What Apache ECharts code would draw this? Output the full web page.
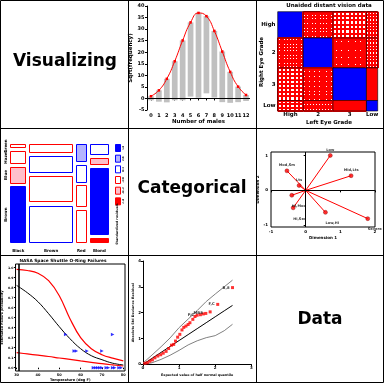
<!DOCTYPE html>
<html><head><meta charset="utf-8">
<script src="https://cdn.jsdelivr.net/npm/echarts@6/dist/echarts.min.js"></script>
<style>html,body{margin:0;padding:0;background:#fff}#c{width:384px;height:383px}</style>
</head><body><div id="c"></div>
<script>
// ---------- Panel: hanging rootogram (number of males) ----------
const maleCounts = ['0','1','2','3','4','5','6','7','8','9','10','11','12'];
const sqrtExpected = [0.96,3.5,8.5,16.1,25.1,32.9,37.0,35.6,29.2,20.3,11.5,5.1,1.5];
const barBottoms = [-0.8,-1.4,-1.7,-0.8,-0.8,0.8,0.3,2.2,0.4,-1.6,-1.9,-1.6,-1.1];

// ---------- Panel: sieve diagram (unaided distant vision) ----------
const eyeGrades = ['High','2','3','Low'];
const visionCounts = [
  [1520, 266, 124, 66],
  [234, 1512, 432, 78],
  [117, 362, 1772, 205],
  [36, 82, 179, 492]
];

// ---------- Panel: mosaic (hair x eye) ----------
const hairColors = ['Black','Brown','Red','Blond'];
const eyeColors = ['Brown','Blue','Hazel','Green'];   // bottom -> top
const hairEye = [
  [68, 20, 15, 5],
  [119, 84, 54, 29],
  [26, 17, 14, 14],
  [7, 94, 10, 16]
];
const residLegend = ['>4','2:4','0:2','-2:0','-4:-2','<-4'];

// ---------- Panel: correspondence analysis ----------
const caLabels = ['Low','Mid,Lts','Mod,Sm','Lts','Hi,Mod','Hi,Sev','Low,Hi','Severe'];
const caDim1 = [0.71, 1.31, -0.54, -0.19, -0.40, -0.36, 0.57, 1.79];
const caDim2 = [1.00, 0.42, 0.56, 0.14, -0.14, -0.50, -0.63, -0.81];

// ---------- Panel: O-ring logistic regression ----------
const fitTemps = [30,35,40,45,50,55,60,65,70,75,80];
const fitUpper = [0.983,0.972,0.945,0.87,0.72,0.49,0.30,0.19,0.13,0.095,0.068];
const fitProb  = [0.823,0.75,0.66,0.54,0.41,0.29,0.19,0.12,0.08,0.045,0.027];
const fitLower = [0.15,0.138,0.125,0.112,0.097,0.083,0.068,0.054,0.04,0.028,0.017];
const launchTemp = [53,57,58,63,70,75,66,67,68,69,70,72,73,75,76,78,79];
const failProp   = [0.333,0.167,0.167,0.167,0.167,0.333,0,0,0,0,0,0,0,0,0,0,0];
const launchMark = 31;

// ---------- Panel: half normal plot ----------
const envQuant = [0,0.25,0.5,0.75,1.0,1.25,1.5,1.75,2.0,2.25,2.48];
const envUpper = [0.05,0.36,0.68,1.02,1.42,1.75,2.08,2.43,2.72,3.0,3.26];
const envMid   = [0,0.23,0.46,0.69,0.92,1.15,1.38,1.61,1.84,2.07,2.28];
const envLower = [0,0.06,0.19,0.35,0.54,0.75,0.91,1.03,1.11,1.30,1.55];
const hnQuant = [0.05,0.12,0.19,0.26,0.33,0.41,0.49,0.56,0.64,0.71,0.79,0.85,0.9,0.96,1.02,1.08,1.13,1.19,1.25,1.30,1.38,1.44,1.5,1.59,1.67,1.74,1.86,2.07,2.48];
const hnResid = [0.04,0.06,0.12,0.17,0.25,0.32,0.37,0.43,0.5,0.61,0.74,0.77,0.9,1.05,1.16,1.33,1.43,1.48,1.54,1.61,1.74,1.85,1.9,1.92,1.95,1.97,2.03,2.32,2.97];
const hnLabelIdx = [22,25,27,28];
const hnLabelText = ['P,C','MB8','F,C','B,8'];

// ================= build ===================
const FF = '"DejaVu Sans", sans-serif';
const RED = '#ff0000', BLUE = '#0000ff';
const chart = echarts.init(document.getElementById('c'), null, {width:384, height:383});

function txt(x, y, text, size, opt) {
  opt = opt || {};
  const al = opt.align || 'center';
  return {type:'text', x:x, y:y, rotation: opt.rot || 0, silent:true, z:50,
    style:{text:text, x:0, y:0, fill:'#000', font:'bold ' + size + 'px ' + FF,
      textAlign:al, align:al, textVerticalAlign:'middle', verticalAlign:'middle'}};
}
function lbl(size){ return {fontFamily:FF, fontSize:size, fontWeight:'bold', color:'#000'}; }

// sieve helpers
const vRow = visionCounts.map(r => r.reduce((a,b)=>a+b,0));
const vCol = [0,1,2,3].map(j => visionCounts.reduce((a,r)=>a+r[j],0));
const vN = vRow.reduce((a,b)=>a+b,0);
const cum = arr => { const c=[0]; arr.forEach(v=>c.push(c[c.length-1]+v)); return c; };
const vRowC = cum(vRow), vColC = cum(vCol);
const sieveData = [];
for (let i=0;i<4;i++) for (let j=0;j<4;j++) sieveData.push([i,j]);

// mosaic helpers
const hTot = hairEye.map(c => c.reduce((a,b)=>a+b,0));
const eTot = eyeColors.map((_,i) => hairEye.reduce((a,c)=>a+c[i],0));
const hN = hTot.reduce((a,b)=>a+b,0);
const GAP = 0.03;
function colX(j){ let x=0; for(let k=0;k<j;k++) x += (1-3*GAP)*hTot[k]/hN + GAP; return x; }
function rowY(j,i){ let y=0; for(let k=0;k<i;k++) y += (1-3*GAP)*hairEye[j][k]/hTot[j] + GAP; return y; }
const mosaicData = [];
for (let j=0;j<4;j++) for (let i=0;i<4;i++) mosaicData.push([j,i]);
function residStyle(r){
  if (r > 4) return {fill:BLUE, stroke:BLUE};
  if (r > 2) return {fill:'#b4b4ff', stroke:BLUE};
  if (r > 0) return {fill:'#fff', stroke:BLUE};
  if (r > -2) return {fill:'#fff', stroke:RED};
  if (r > -4) return {fill:'#ffc0cb', stroke:RED};
  return {fill:RED, stroke:RED};
}
const legendStyles = [5,3,1,-1,-3,-5].map(residStyle);

const graphic = [];
// frame
graphic.push({type:'rect', shape:{x:0.5,y:0.5,width:383,height:382}, style:{fill:'none', stroke:'#000', lineWidth:1}, silent:true, z:60});
[128.5, 256.5].forEach(x => graphic.push({type:'line', shape:{x1:x,y1:0,x2:x,y2:383}, style:{stroke:'#000',lineWidth:1}, silent:true, z:60}));
[128.5, 255.5].forEach(y => graphic.push({type:'line', shape:{x1:0,y1:y,x2:384,y2:y}, style:{stroke:'#000',lineWidth:1}, silent:true, z:60}));
// big words
graphic.push(txt(65, 62, 'Visualizing', 17));
graphic.push(txt(192, 189, 'Categorical', 17));
graphic.push(txt(320, 320, 'Data', 17));
// sieve labels
graphic.push(txt(329, 6, 'Unaided distant vision data', 5.5));
const sx0 = 277.7, sw = 100, sy0 = 11.7, sh = 99.3;
eyeGrades.forEach((g,i) => {
  graphic.push(txt(275.5, sy0 + (vRowC[i]+vRow[i]/2)/vN*sh, g, 5.5, {align:'right'}));
  graphic.push(txt(sx0 + (vColC[i]+vCol[i]/2)/vN*sw, 114.5, g, 5.5));
});
graphic.push(txt(261.5, 62, 'Right Eye Grade', 5.5, {rot:Math.PI/2}));
graphic.push(txt(329, 123, 'Left Eye Grade', 5.5));
// mosaic labels
const mx0 = 10, mw = 99, my0 = 144, mh = 99;
hairColors.forEach((h,j) => {
  const w = (1-3*GAP)*hTot[j]/hN;
  graphic.push(txt(mx0 + (colX(j)+w/2)*mw, 250.5, h, 4));
});
eyeColors.forEach((e,i) => {
  const h = (1-3*GAP)*hairEye[0][i]/hTot[0];
  graphic.push(txt(6, my0 + (1-(rowY(0,i)+h/2))*mh, e, 4, {rot:Math.PI/2}));
});
legendStyles.forEach((s,k) => {
  graphic.push({type:'rect', shape:{x:115.5, y:144.5 + k*10.67, width:5, height:7}, style:{fill:s.fill, stroke:s.stroke, lineWidth:1}, silent:true, z:40});
  graphic.push(txt(123.5, 148 + k*10.67, residLegend[k], 2.6, {rot:Math.PI/2}));
});
graphic.push(txt(117.5, 224, 'Standardized residuals', 3.2, {rot:Math.PI/2}));
// O-ring title
graphic.push(txt(63, 260.5, 'NASA Space Shuttle O-Ring Failures', 4.3));

const option = {
  backgroundColor:'#fff',
  animation:false,
  graphic: graphic,
  grid: [
    {left:147, top:6, width:103, height:104},
    {left:sx0, top:sy0, width:sw, height:sh},
    {left:mx0, top:my0, width:mw, height:mh},
    {left:271, top:152, width:104, height:75, show:true, borderColor:'#000', borderWidth:1, backgroundColor:'transparent'},
    {left:15, top:264, width:110, height:107, show:true, borderColor:'#000', borderWidth:1, backgroundColor:'transparent'},
    {left:143, top:261, width:108.3, height:103.3}
  ],
  xAxis: [
    {type:'category', gridIndex:0, data:maleCounts, axisLine:{show:false},
     axisTick:{show:true, alignWithLabel:true, length:2, lineStyle:{color:'#000'}},
     axisLabel:Object.assign({interval:0, margin:3}, lbl(5)),
     name:'Number of males', nameLocation:'middle', nameGap:9, nameTextStyle:lbl(5.5)},
    {type:'value', gridIndex:1, min:0, max:1, show:false},
    {type:'value', gridIndex:2, min:0, max:1, show:false},
    {type:'value', gridIndex:3, min:-1, max:2, interval:1, splitLine:{show:false},
     axisLine:{show:false}, axisTick:{show:true, length:2, lineStyle:{color:'#000'}},
     axisLabel:Object.assign({margin:3}, lbl(4)),
     name:'Dimension 1', nameLocation:'middle', nameGap:9, nameTextStyle:lbl(4)},
    {type:'value', gridIndex:4, min:29.5, max:80.8, splitLine:{show:false},
     axisLine:{show:false}, axisTick:{show:true, length:1.5, customValues:[30,40,50,60,70,80], lineStyle:{color:'#000'}},
     axisLabel:Object.assign({margin:2, customValues:[30,40,50,60,70,80]}, lbl(3.5)),
     name:'Temperature (deg F)', nameLocation:'middle', nameGap:6, nameTextStyle:lbl(3.5)},
    {type:'value', gridIndex:5, min:0, max:3, interval:1, splitLine:{show:false},
     axisLine:{show:true, lineStyle:{color:'#000', width:1}}, axisTick:{show:true, length:2, lineStyle:{color:'#000'}},
     axisLabel:Object.assign({margin:2}, lbl(4)),
     name:'Expected value of half normal quantile', nameLocation:'middle', nameGap:9, nameTextStyle:lbl(3.3)}
  ],
  yAxis: [
    {type:'value', gridIndex:0, min:-5, max:40, interval:5, splitLine:{show:false},
     axisLine:{show:true, lineStyle:{color:'#000', width:1}}, axisTick:{show:true, length:2, lineStyle:{color:'#000'}},
     axisLabel:Object.assign({margin:2.5}, lbl(5)),
     name:'Sqrt(frequency)', nameLocation:'middle', nameRotate:90, nameGap:11, nameTextStyle:lbl(5.5)},
    {type:'value', gridIndex:1, min:0, max:1, inverse:true, show:false},
    {type:'value', gridIndex:2, min:0, max:1, show:false},
    {type:'value', gridIndex:3, min:-1.05, max:1.1, splitLine:{show:false},
     axisLine:{show:false}, axisTick:{show:true, length:2, customValues:[-1,0,1], lineStyle:{color:'#000'}},
     axisLabel:Object.assign({margin:3, customValues:[-1,0,1]}, lbl(4)),
     name:'Dimension 2', nameLocation:'middle', nameRotate:90, nameGap:9, nameTextStyle:lbl(4)},
    {type:'value', gridIndex:4, min:-0.033, max:1.037, splitLine:{show:false},
     axisLine:{show:false}, axisTick:{show:true, length:1.5, customValues:[0,0.1,0.2,0.3,0.4,0.5,0.6,0.7,0.8,0.9,1.0], lineStyle:{color:'#000'}},
     axisLabel:Object.assign({margin:2, customValues:[0,0.1,0.2,0.3,0.4,0.5,0.6,0.7,0.8,0.9,1.0], formatter:v=>v.toFixed(1)}, lbl(3.2)),
     name:'Estimated Failure probability', nameLocation:'middle', nameRotate:90, nameGap:6.5, nameTextStyle:lbl(3.3)},
    {type:'value', gridIndex:5, min:0, max:4, interval:1, splitLine:{show:false},
     axisLine:{show:true, lineStyle:{color:'#000', width:1}}, axisTick:{show:true, length:2, lineStyle:{color:'#000'}},
     axisLabel:Object.assign({margin:2}, lbl(4)),
     name:'Absolute Std Deviance Residual', nameLocation:'middle', nameRotate:90, nameGap:7, nameTextStyle:lbl(3.3)}
  ],
  series: [
    // rootogram bars
    {type:'custom', xAxisIndex:0, yAxisIndex:0, silent:true, z:2,
     data: maleCounts.map((c,i) => [i, barBottoms[i], sqrtExpected[i]]),
     encode:{x:0, y:[1,2]},
     renderItem:(params, api) => {
       const top = api.coord([api.value(0), api.value(2)]);
       const bot = api.coord([api.value(0), api.value(1)]);
       const w = api.size([1,0])[0]*0.72;
       return {type:'rect', shape:{x:top[0]-w/2, y:top[1], width:w, height:bot[1]-top[1]}, style:{fill:'#c0c0c0'}};
     }},
    {type:'line', xAxisIndex:0, yAxisIndex:0, data:sqrtExpected, smooth:0.5, z:5, silent:true,
     symbol:'rect', symbolSize:2.5, itemStyle:{color:RED}, lineStyle:{color:RED, width:1},
     markLine:{silent:true, symbol:'none', label:{show:false}, lineStyle:{color:'#000', type:'solid', width:1}, data:[{yAxis:0}]}},
    // sieve
    {type:'custom', xAxisIndex:1, yAxisIndex:1, silent:true, data:sieveData, encode:{x:1, y:0},
     renderItem:(params, api) => {
       const i = api.value(0), j = api.value(1);
       const p0 = api.coord([vColC[j]/vN, vRowC[i]/vN]);
       const p1 = api.coord([vColC[j+1]/vN, vRowC[i+1]/vN]);
       const x = Math.min(p0[0],p1[0]), y = Math.min(p0[1],p1[1]);
       const w = Math.abs(p1[0]-p0[0]), h = Math.abs(p1[1]-p0[1]);
       const obs = visionCounts[i][j], exp = vRow[i]*vCol[j]/vN;
       const col = obs > exp ? BLUE : RED;
       const s = 1.75*Math.sqrt(exp/obs);
       const ch = [];
       if (s < 2.05) {
         ch.push({type:'rect', shape:{x,y,width:w,height:h}, style:{fill:col}});
       } else {
         ch.push({type:'rect', shape:{x,y,width:w,height:h}, style:{fill:'#fff'}});
         const nx = Math.max(1, Math.round(w/s)), ny = Math.max(1, Math.round(h/s));
         for (let k=0;k<=nx;k++) { const xx = Math.round(x + k*w/nx); ch.push({type:'line', shape:{x1:xx,y1:y,x2:xx,y2:y+h}, style:{stroke:col, lineWidth:2}}); }
         for (let k=0;k<=ny;k++) { const yy = Math.round(y + k*h/ny); ch.push({type:'line', shape:{x1:x,y1:yy,x2:x+w,y2:yy}, style:{stroke:col, lineWidth:2}}); }
       }
       ch.push({type:'rect', shape:{x,y,width:w,height:h}, style:{fill:'none', stroke:'#000', lineWidth:0.6}});
       return {type:'group', children:ch};
     }},
    // mosaic
    {type:'custom', xAxisIndex:2, yAxisIndex:2, silent:true, data:mosaicData, encode:{x:0, y:1},
     renderItem:(params, api) => {
       const j = api.value(0), i = api.value(1);
       const x0 = colX(j), w = (1-3*GAP)*hTot[j]/hN;
       const y0 = rowY(j,i), h = (1-3*GAP)*hairEye[j][i]/hTot[j];
       const a = api.coord([x0, y0+h]), b = api.coord([x0+w, y0]);
       const o = hairEye[j][i], e = hTot[j]*eTot[i]/hN;
       const st = residStyle((o-e)/Math.sqrt(e));
       return {type:'rect', shape:{x:Math.round(a[0])+0.5, y:Math.round(a[1])+0.5, width:Math.round(b[0]-a[0])-1, height:Math.round(b[1]-a[1])-1},
         style:{fill:st.fill, stroke:st.stroke, lineWidth:1}};
     }},
    // CA vectors
    {type:'custom', xAxisIndex:3, yAxisIndex:3, silent:true, z:3,
     data: caDim1.map((x,i)=>[x, caDim2[i]]), encode:{x:0,y:1},
     renderItem:(params, api) => {
       const p0 = api.coord([0,0]), p1 = api.coord([api.value(0), api.value(1)]);
       return {type:'line', shape:{x1:p0[0],y1:p0[1],x2:p1[0],y2:p1[1]}, style:{stroke:RED, lineWidth:1}};
     }},
    {type:'scatter', xAxisIndex:3, yAxisIndex:3, silent:true, z:4,
     data: caDim1.map((x,i)=>[x, caDim2[i], caLabels[i]]),
     symbol:'circle', symbolSize:4, itemStyle:{color:RED, borderColor:'#800000', borderWidth:0.5},
     label:{show:true, formatter:p=>p.data[2], position:'top', distance:1.5, fontFamily:FF, fontSize:3.6, fontWeight:'bold', color:'#000'},
     labelLayout:(p) => (p.dataIndex >= 4 ? {y: p.rect.y + 11} : {}),
     markLine:{silent:true, symbol:'none', label:{show:false}, lineStyle:{color:'#000', type:'solid', width:1}, data:[{xAxis:0},{yAxis:0}]}},
    // O-ring curves
    {type:'line', xAxisIndex:4, yAxisIndex:4, silent:true, smooth:0.4, symbol:'none',
     data: fitTemps.map((t,i)=>[t, fitUpper[i]]), lineStyle:{color:RED, width:1.2}},
    {type:'line', xAxisIndex:4, yAxisIndex:4, silent:true, smooth:0.4, symbol:'none',
     data: fitTemps.map((t,i)=>[t, fitProb[i]]), lineStyle:{color:'#000', width:1}},
    {type:'line', xAxisIndex:4, yAxisIndex:4, silent:true, smooth:0.4, symbol:'none',
     data: fitTemps.map((t,i)=>[t, fitLower[i]]), lineStyle:{color:RED, width:1.2},
     markLine:{silent:true, symbol:'none', label:{show:false}, lineStyle:{color:'#000', type:'solid', width:1.6}, data:[{xAxis:launchMark}]}},
    {type:'scatter', xAxisIndex:4, yAxisIndex:4, silent:true, z:6,
     data: launchTemp.map((t,i)=>[t, failProp[i]]),
     symbol:'triangle', symbolRotate:-90, symbolSize:3.5, itemStyle:{color:BLUE}},
    // half normal
    {type:'line', xAxisIndex:5, yAxisIndex:5, silent:true, symbol:'none',
     data: envQuant.map((q,i)=>[q, envUpper[i]]), lineStyle:{color:'#808080', width:1}},
    {type:'line', xAxisIndex:5, yAxisIndex:5, silent:true, symbol:'none',
     data: envQuant.map((q,i)=>[q, envLower[i]]), lineStyle:{color:'#808080', width:1}},
    {type:'line', xAxisIndex:5, yAxisIndex:5, silent:true, symbol:'none',
     data: envQuant.map((q,i)=>[q, envMid[i]]), lineStyle:{color:'#000', width:1}},
    {type:'scatter', xAxisIndex:5, yAxisIndex:5, silent:true, z:6,
     data: hnQuant.map((q,i)=>{
       const k = hnLabelIdx.indexOf(i);
       return {value:[q, hnResid[i]], label:{show:k>=0, formatter:k>=0?hnLabelText[k]:''}};
     }),
     symbol:'rect', symbolSize:3, itemStyle:{color:RED},
     label:{position:'left', distance:1.5, fontFamily:FF, fontSize:3.8, fontWeight:'bold', color:'#000'}}
  ]
};
chart.setOption(option);
</script>
</body></html>
